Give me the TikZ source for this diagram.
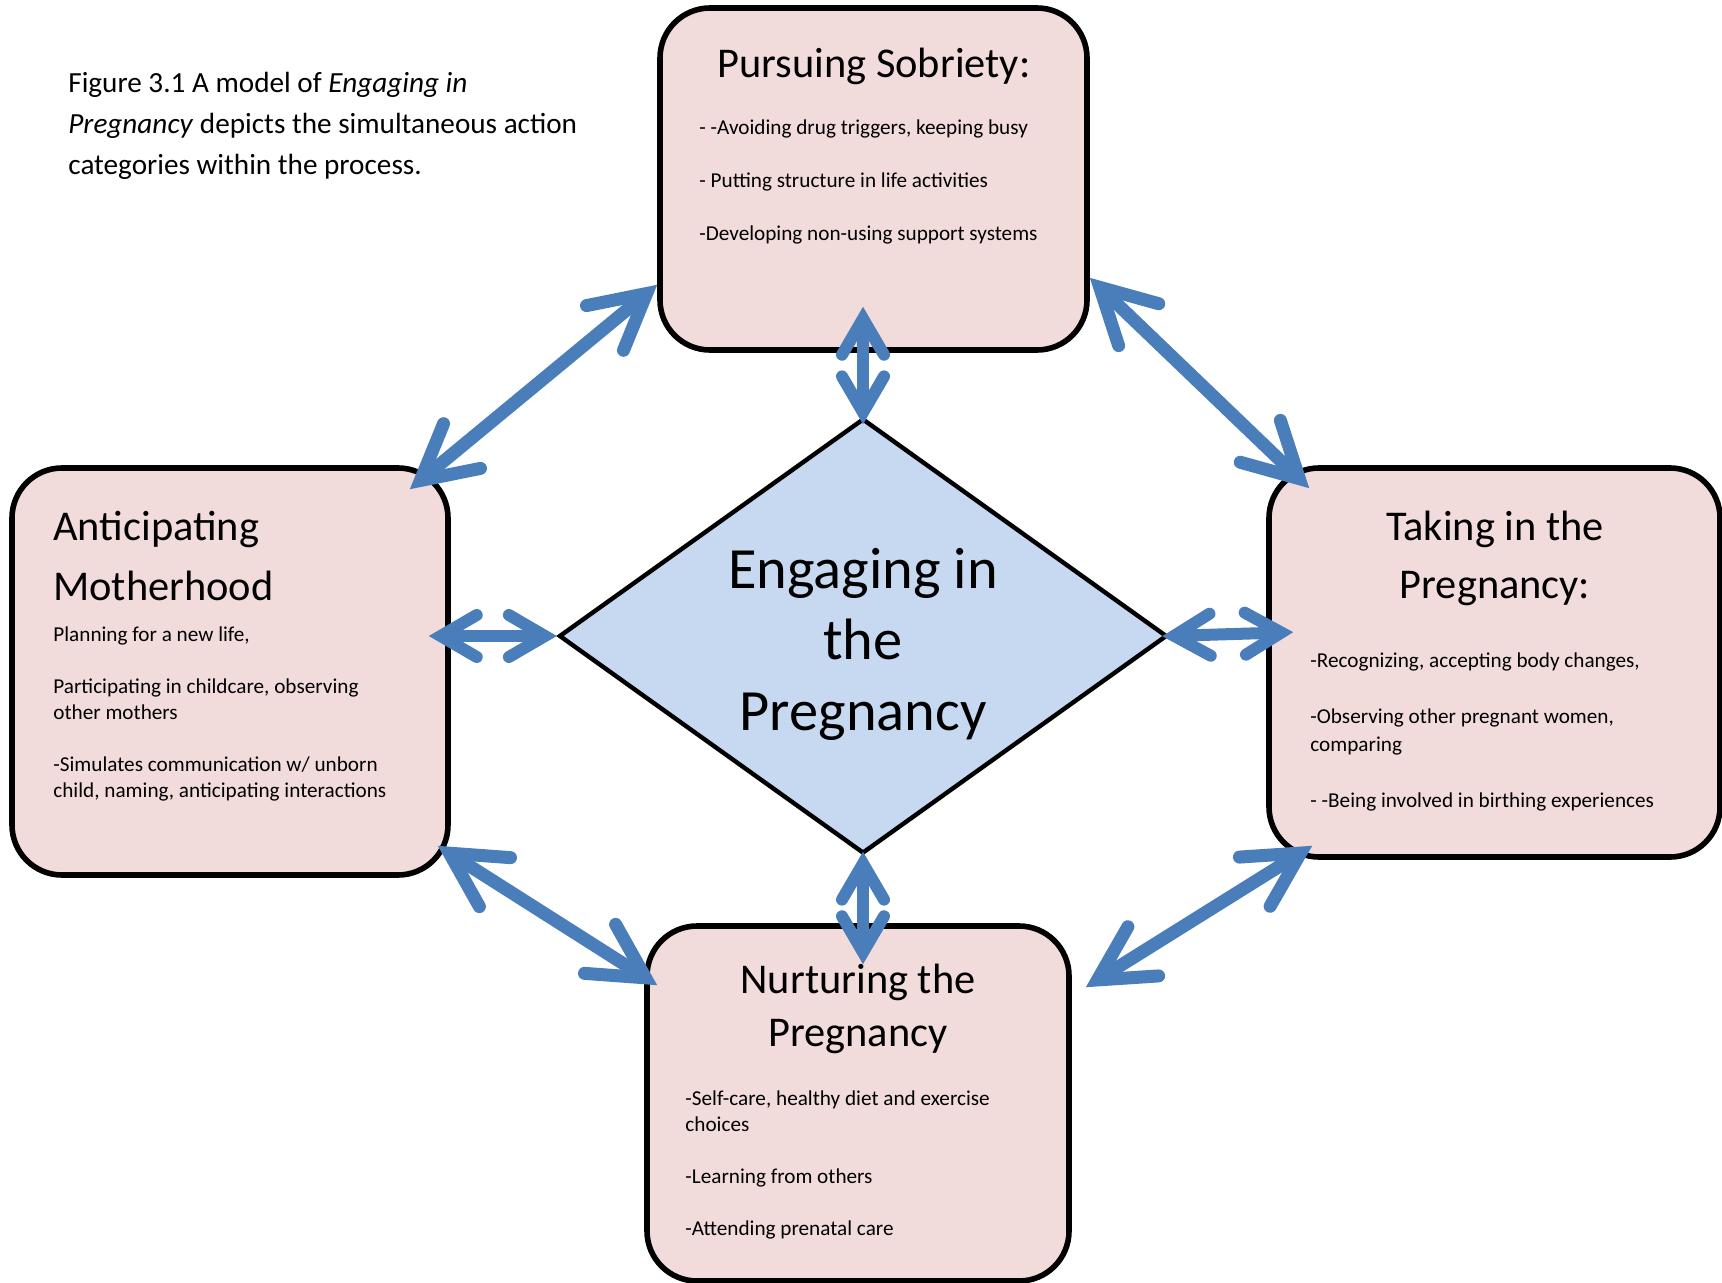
\documentclass[tikz,border=0pt]{standalone}
\usepackage{fontspec}
\setmainfont{Carlito}
\usetikzlibrary{arrows.meta,shapes.geometric}
\definecolor{boxpink}{HTML}{F2DCDB}
\definecolor{diamondblue}{HTML}{C6D9F1}
\definecolor{arrowblue}{HTML}{4A7EBB}
\begin{document}
\begin{tikzpicture}[x=0.5pt, y=-0.5pt,
  catbox/.style={draw, line width=2.8pt, rounded corners=25pt, fill=boxpink, inner sep=0pt},
  core/.style={draw, diamond, line width=2.2pt, fill=diamondblue, inner sep=0pt, aspect=1.4,
    minimum width=304pt, minimum height=217.5pt},
  coretext/.style={inner sep=0pt, align=center, font=\fontsize{29.2}{35.5}\selectfont},
  heading/.style={inner sep=0pt, anchor=base, align=center, font=\fontsize{21.2}{29}\selectfont},
  items/.style={inner sep=0pt, anchor=base west, align=left, font=\fontsize{10.6}{13}\selectfont},
  link/.style={draw=arrowblue, line width=6pt,
    >={Straight Barb[length=18pt, width=21pt, line cap=round, line join=miter]}, <->},
  biglink/.style={draw=arrowblue, line width=6.5pt,
    >={Straight Barb[length=27pt, width=29pt, line cap=round, line join=miter]}, <->}]
\useasboundingbox (0,0) rectangle (1722,1283);

% caption (placed by its last line)
\node[inner sep=0pt, anchor=base west, align=left, font=\fontsize{14.6}{20.5}\selectfont] (cap) at (68,175)
  {Figure 3.1 A model of \textit{Engaging in}\\\textit{Pregnancy} depicts the simultaneous action\\categories within the process.};

% the four categories
\node[catbox, minimum width=213.5pt, minimum height=171pt] (sob) at (873.5,179) {};
\node[catbox, minimum width=218pt, minimum height=203.5pt] (ant) at (230,671.5) {};
\node[catbox, minimum width=225.5pt, minimum height=194.5pt] (tak) at (1494.5,662.5) {};
\node[catbox, minimum width=211pt, minimum height=177.5pt] (nur) at (858,1103.5) {};

% core category
\node[core] (eng) at (863,636) {};
\node[coretext] (engT) at ([yshift=-4pt]eng.center) {Engaging in\\the\\Pregnancy};

% texts (multi-line nodes sit on their last baseline)
\node[heading] (sobT) at (874,78) {Pursuing Sobriety:};
\node[items, font=\fontsize{10.6}{13.25}\selectfont] (sobL) at (699,241)
  {- -Avoiding drug triggers, keeping busy\\[13.25pt]- Putting structure in life activities\\[13.25pt]-Developing non-using support systems};

\node[heading, anchor=base west, align=left, font=\fontsize{21.2}{30}\selectfont] (antT) at (53,600) {Anticipating\\Motherhood};
\node[items] (antL) at (53,797)
  {Planning for a new life,\\[13pt]Participating in childcare, observing\\other mothers\\[13pt]-Simulates communication w/ unborn\\child, naming, anticipating interactions};

\node[heading] (takT) at (1495,598) {Taking in the\\Pregnancy:};
\node[items, font=\fontsize{10.6}{14}\selectfont] (takL) at (1310,807)
  {-Recognizing, accepting body changes,\\[14pt]-Observing other pregnant women,\\comparing\\[14pt]- -Being involved in birthing experiences};

\node[heading, font=\fontsize{21.2}{26.5}\selectfont] (nurT) at (858,1046) {Nurturing the\\Pregnancy};
\node[items] (nurL) at (685,1235)
  {-Self-care, healthy diet and exercise\\choices\\[13pt]-Learning from others\\[13pt]-Attending prenatal care};

% links to the core
\draw[link, shorten <=-4pt, shorten >=-23pt] (eng.north) -- (eng.north |- sob.south);
\draw[link, shorten <=-2pt, shorten >=-20.5pt] (eng.south) -- (eng.south |- nur.north);
\draw[link, shorten >=-11pt] (eng.west) -- (eng.west -| ant.east);
\draw[link, shorten <=-3.5pt, shorten >=-13.5pt] (eng.east) -- ([yshift=1.5pt]eng.east -| tak.west);

% links round the outside
\draw[biglink] ([yshift=34pt]sob.south west) -- ([xshift=-20.5pt, yshift=-12pt]ant.north east);
\draw[biglink] ([yshift=37.5pt]sob.south east) -- ([xshift=21.5pt, yshift=-11.5pt]tak.north west);
\draw[biglink] ([xshift=-6.5pt, yshift=16pt]ant.south east) -- ([xshift=6.5pt, yshift=-31pt]nur.north west);
\draw[biglink] ([xshift=23pt, yshift=7pt]tak.south west) -- ([xshift=7pt, yshift=-32pt]nur.north east);
\end{tikzpicture}
\end{document}
